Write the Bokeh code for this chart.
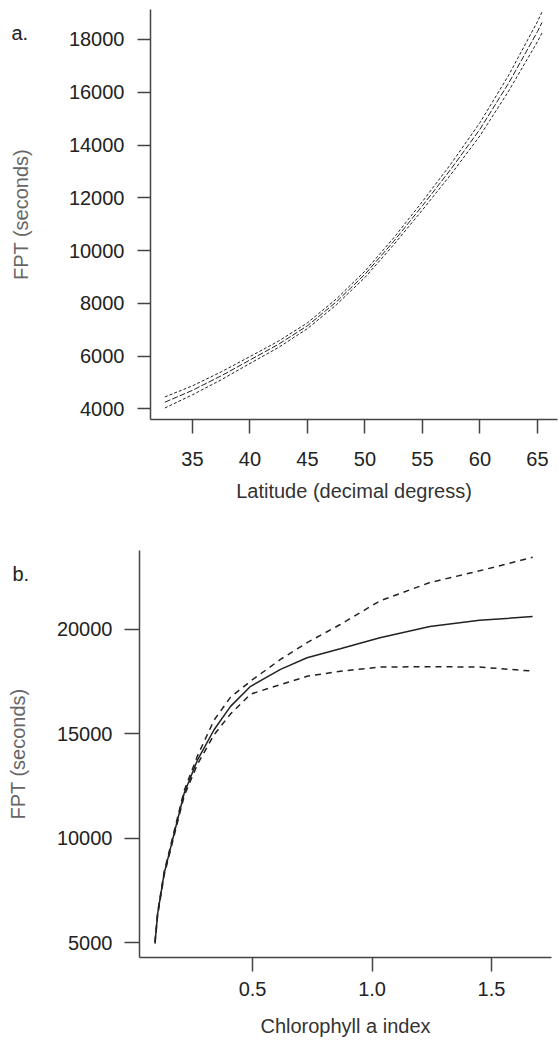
from bokeh.plotting import figure
from bokeh.models import FixedTicker, Range1d, Label
from bokeh.embed import file_html
from bokeh.resources import INLINE

# ---- Panel a: FPT vs latitude ----
lat = [32.6, 35, 37.5, 40, 42.5, 45, 47.5, 50, 52.5, 55, 57.5, 60, 62.5, 65, 65.4]
fpt_a = [4250, 4700, 5250, 5850, 6450, 7150, 8050, 9100, 10350, 11700, 13100, 14600, 16350, 18300, 18650]
upper_a = [4450, 4870, 5400, 5980, 6570, 7260, 8160, 9220, 10480, 11860, 13300, 14850, 16650, 18680, 19050]
lower_a = [4030, 4530, 5100, 5720, 6330, 7040, 7940, 8980, 10220, 11540, 12900, 14350, 16050, 17920, 18250]
xticks_a = [35, 40, 45, 50, 55, 60, 65]
yticks_a = [4000, 6000, 8000, 10000, 12000, 14000, 16000, 18000]

# ---- Panel b: FPT vs chlorophyll a index ----
chl = [0.092, 0.103, 0.13, 0.158, 0.186, 0.214, 0.27, 0.339, 0.408, 0.492, 0.617, 0.728, 0.867, 1.033, 1.242, 1.45, 1.672]
fpt_b = [5000, 6380, 8300, 9580, 10870, 12150, 13750, 15190, 16310, 17270, 18080, 18640, 19070, 19600, 20130, 20430, 20610]
upper_b = [5050, 6450, 8380, 9680, 10980, 12280, 13950, 15650, 16750, 17520, 18560, 19360, 20230, 21360, 22240, 22800, 23450]
lower_b = [4950, 6300, 8220, 9480, 10760, 12020, 13550, 14950, 15950, 16900, 17350, 17750, 17990, 18190, 18210, 18190, 18000]
xticks_b = [0.5, 1.0, 1.5]
xlabels_b = {0.5: "0.5", 1.0: "1.0", 1.5: "1.5"}
yticks_b = [5000, 10000, 15000, 20000]

FONT = "Liberation Sans"
FS = "20px"
AXC = "#444444"
LINEC = "#222222"


def style(p, xticks, yticks, xlabel, ylabel):
    p.outline_line_color = None
    p.xgrid.visible = False
    p.ygrid.visible = False
    p.background_fill_color = "white"
    p.border_fill_color = "white"
    p.xaxis.ticker = FixedTicker(ticks=xticks)
    p.yaxis.ticker = FixedTicker(ticks=yticks)
    for ax in (p.xaxis[0], p.yaxis[0]):
        ax.axis_line_color = AXC
        ax.axis_line_width = 1.5
        ax.major_tick_line_color = AXC
        ax.major_tick_line_width = 1.5
        ax.major_tick_in = 0
        ax.minor_tick_line_color = None
        ax.major_label_text_font = FONT
        ax.major_label_text_font_size = FS
        ax.major_label_text_color = "#222222"
        ax.axis_label_text_font = FONT
        ax.axis_label_text_font_size = FS
        ax.axis_label_text_font_style = "normal"
    p.xaxis.axis_label = xlabel
    p.yaxis.axis_label = ylabel
    p.xaxis.axis_label_text_color = "#333333"
    p.yaxis.axis_label_text_color = "#666666"
    p.yaxis.major_label_orientation = "horizontal"


# Panel a
pa = figure(width=559, height=528, output_backend="svg", toolbar_location=None,
            x_range=Range1d(31.35, 66.74), y_range=Range1d(3594, 19137),
            min_border_left=150, min_border_right=2, min_border_top=9, min_border_bottom=109)
style(pa, xticks_a, yticks_a, "Latitude (decimal degress)", "FPT (seconds)")
pa.xaxis.major_tick_out = 14
pa.yaxis.major_tick_out = 13
pa.xaxis.major_label_standoff = 18
pa.xaxis.axis_label_standoff = 11
pa.yaxis.major_label_standoff = 13
pa.yaxis.axis_label_standoff = 34
pa.line(lat, upper_a, line_color=LINEC, line_width=1, line_dash="3 2")
pa.line(lat, lower_a, line_color=LINEC, line_width=1, line_dash="3 2")
pa.line(lat, fpt_a, line_color=LINEC, line_width=1, line_dash="6 2")
pa.add_layout(Label(x=-139, y=494, x_units="screen", y_units="screen", text="a.",
                    text_font=FONT, text_font_size=FS, text_color="#222222",
                    text_baseline="middle", text_align="left"), "below")

# Panel b
pb = figure(width=559, height=517, output_backend="svg", toolbar_location=None,
            x_range=Range1d(0.027, 1.751), y_range=Range1d(4283, 23774),
            min_border_left=139, min_border_right=8, min_border_top=21, min_border_bottom=88)
style(pb, xticks_b, yticks_b, "Chlorophyll a index", "FPT (seconds)")
pb.xaxis.major_label_overrides = xlabels_b
pb.xaxis.major_tick_out = 14
pb.yaxis.major_tick_out = 15
pb.xaxis.major_label_standoff = 10
pb.xaxis.axis_label_standoff = 16
pb.yaxis.major_label_standoff = 12
pb.yaxis.axis_label_standoff = 25
pb.line(chl, upper_b, line_color=LINEC, line_width=1.5, line_dash="6 5")
pb.line(chl, lower_b, line_color=LINEC, line_width=1.5, line_dash="6 5")
pb.line(chl, fpt_b, line_color=LINEC, line_width=1.5)
pb.add_layout(Label(x=-127, y=-23, x_units="screen", y_units="screen", text="b.",
                    text_font=FONT, text_font_size=FS, text_color="#222222",
                    text_baseline="middle", text_align="left"), "above")

open("out.html", "w").write(file_html([pa, pb], INLINE))
